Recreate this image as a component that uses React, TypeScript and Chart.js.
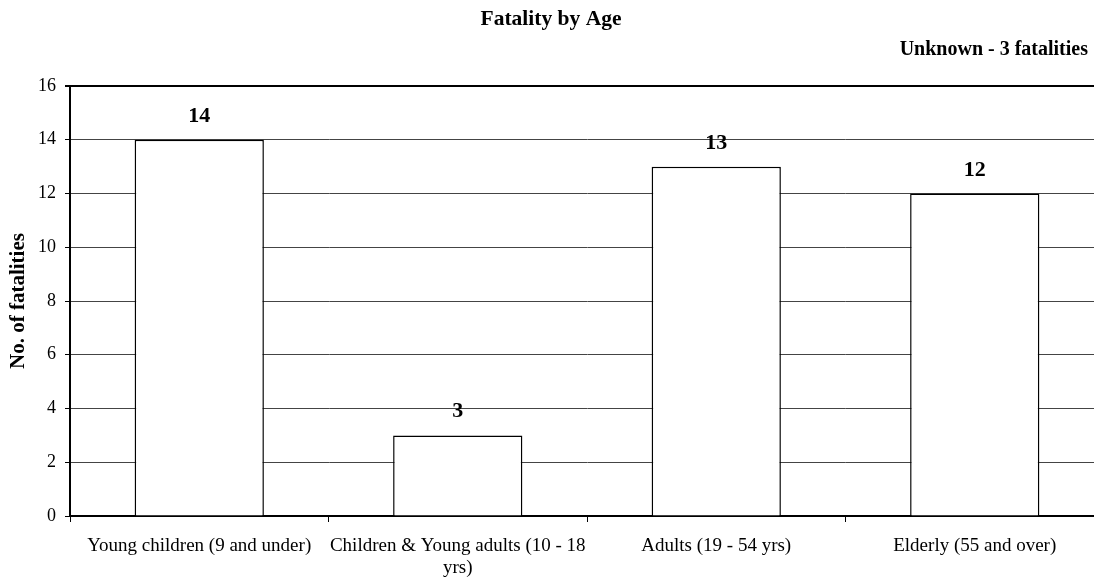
import React, { useEffect, useRef } from "react";
import { Chart, registerables } from "chart.js";

Chart.register(...registerables);

const chartTitle = "Fatality by Age";
const noteText = "Unknown - 3 fatalities";
const yAxisTitle = "No. of fatalities";
const categories: (string | string[])[] = [
  "Young children (9 and under)",
  ["Children & Young adults (10 - 18", "yrs)"],
  "Adults (19 - 54 yrs)",
  "Elderly (55 and over)",
];
const fatalities = [14, 3, 13, 12];
const yMin = 0;
const yMax = 16;
const yStep = 2;

const FONT = "'Liberation Serif', 'Times New Roman', serif";

const textPlugin = {
  id: "customTexts",
  afterDraw(chart: any) {
    const ctx = chart.ctx;
    const area = chart.chartArea;
    ctx.save();
    ctx.fillStyle = "#000";
    // title
    ctx.font = `bold 21.5px ${FONT}`;
    ctx.textAlign = "center";
    ctx.textBaseline = "alphabetic";
    ctx.fillText(chartTitle, 551, 25);
    // note
    ctx.font = `bold 20px ${FONT}`;
    ctx.textAlign = "right";
    ctx.fillText(noteText, 1088, 55);
    // y title
    ctx.save();
    ctx.translate(24, (area.top + area.bottom) / 2);
    ctx.rotate(-Math.PI / 2);
    ctx.textAlign = "center";
    ctx.font = `bold 21px ${FONT}`;
    ctx.fillText(yAxisTitle, 0, 0);
    ctx.restore();
    // data labels
    const meta = chart.getDatasetMeta(0);
    ctx.font = `bold 22px ${FONT}`;
    ctx.textAlign = "center";
    meta.data.forEach((bar: any, i: number) => {
      ctx.fillText(String(fatalities[i]), bar.x, bar.y - 18);
    });
    ctx.restore();
  },
};

export default function App() {
  const ref = useRef<HTMLCanvasElement>(null);
  useEffect(() => {
    if (!ref.current) return;
    const chart = new Chart(ref.current, {
      type: "bar",
      data: {
        labels: categories,
        datasets: [
          {
            data: fatalities,
            backgroundColor: "#ffffff",
            borderColor: "#000000",
            borderWidth: 1.5,
            barPercentage: 0.5,
            categoryPercentage: 1,
          },
        ],
      },
      options: {
        responsive: false,
        animation: false,
        layout: { padding: { top: 86, right: 0, bottom: 0, left: 0 } },
        plugins: {
          legend: { display: false },
          title: { display: false },
          tooltip: { enabled: false },
        },
        scales: {
          x: {
            offset: true,
            grid: {
              offset: true,
              drawOnChartArea: false,
              color: "#000",
              tickLength: 6,
              tickWidth: 1,
            },
            border: { color: "#000", width: 2 },
            ticks: {
              color: "#000",
              font: { family: FONT, size: 19, lineHeight: 1.15 },
              padding: 13,
              maxRotation: 0,
              autoSkip: false,
            },
            afterFit: (s: any) => {
              s.height = 63;
            },
          },
          y: {
            min: yMin,
            max: yMax,
            grid: {
              color: (c: any) => (c.tick && c.tick.value === yMax ? "#000" : "#444"),
              lineWidth: (c: any) => (c.tick && c.tick.value === yMax ? 2 : 1),
              tickLength: 5,
              tickColor: "#000",
            },
            border: { color: "#000", width: 2 },
            ticks: {
              stepSize: yStep,
              color: "#000",
              font: { family: FONT, size: 18 },
              padding: 9,
            },
            afterFit: (s: any) => {
              s.width = 70;
            },
          },
        },
      },
      plugins: [textPlugin],
    });
    return () => chart.destroy();
  }, []);
  return (
    <div style={{ position: "fixed", left: 0, top: 0, width: 1104, height: 579, background: "#fff" }}>
      <canvas ref={ref} width={1104} height={579} style={{ display: "block" }} />
    </div>
  );
}
